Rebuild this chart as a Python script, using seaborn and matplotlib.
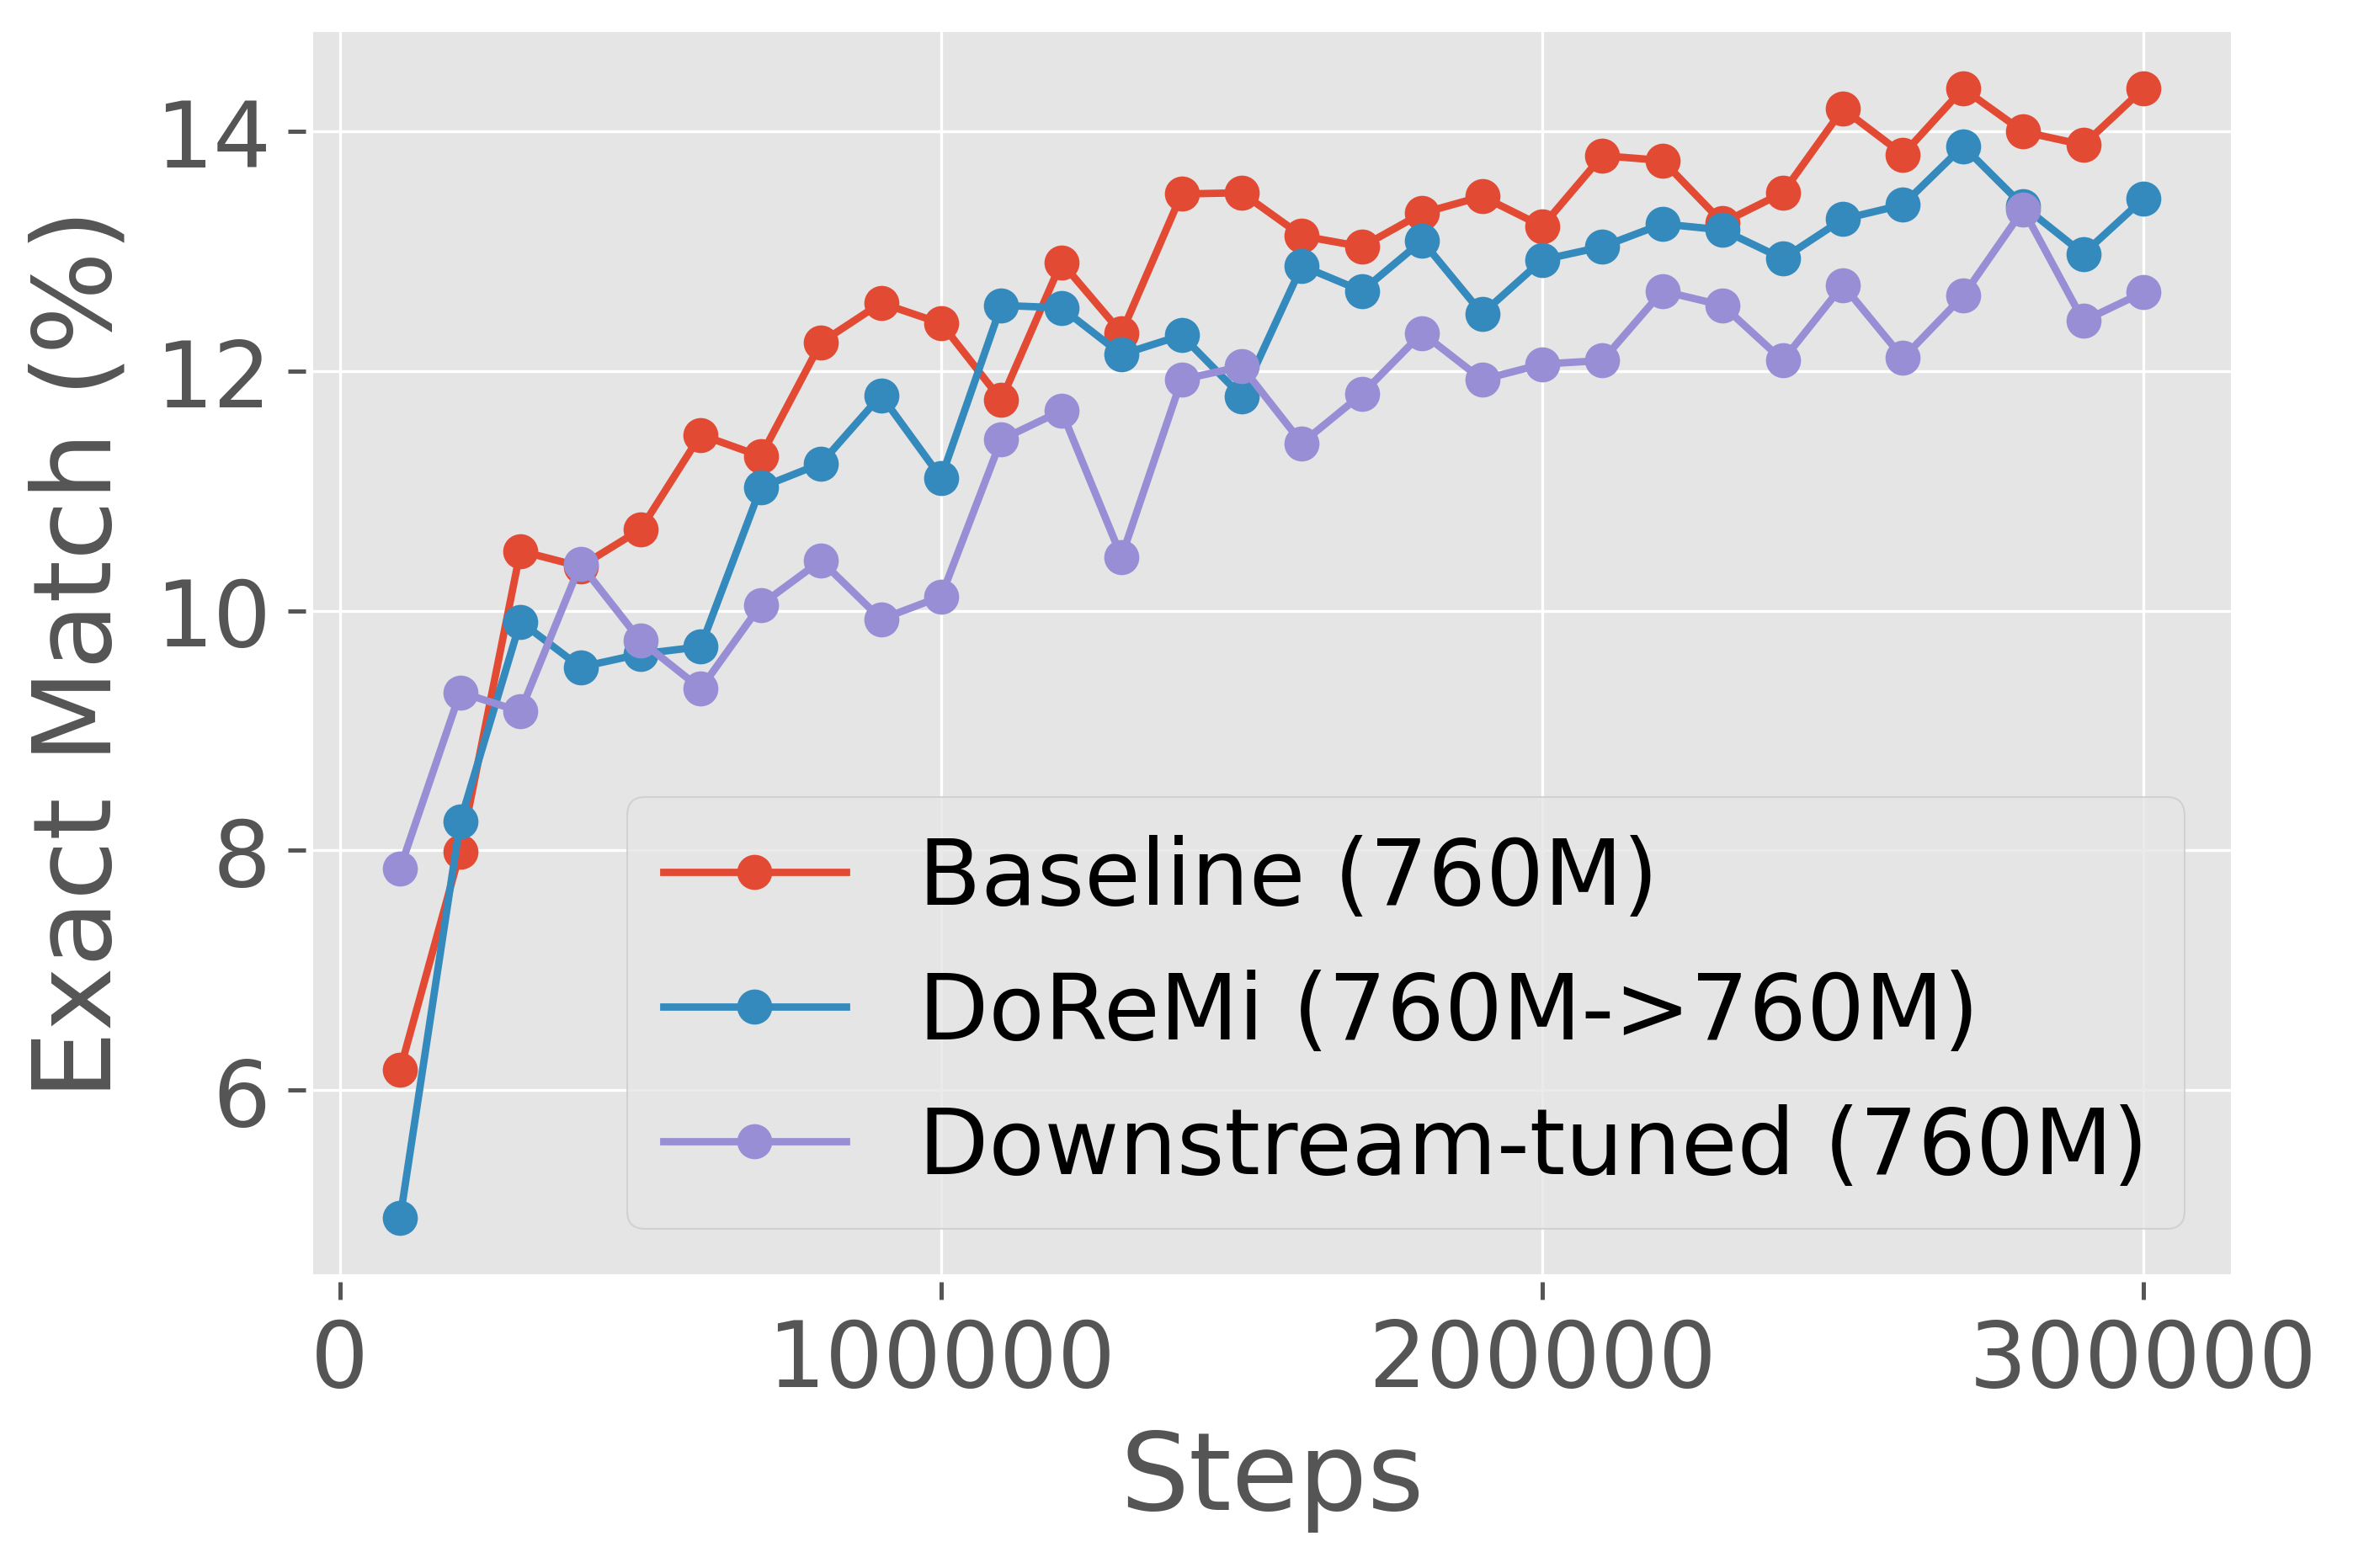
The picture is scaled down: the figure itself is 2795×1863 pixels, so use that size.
import matplotlib
matplotlib.use("Agg")
import matplotlib.pyplot as plt
import seaborn as sns
import pandas as pd

steps = [10000 * i for i in range(1, 31)]

baseline = [6.17, 7.99, 10.50, 10.37, 10.68, 11.47, 11.29, 12.24, 12.57, 12.40,
            11.76, 12.91, 12.32, 13.48, 13.49, 13.13, 13.04, 13.32, 13.46, 13.21,
            13.80, 13.76, 13.24, 13.49, 14.19, 13.81, 14.36, 14.00, 13.89, 14.36]
doremi = [4.93, 8.24, 9.91, 9.53, 9.64, 9.70, 11.03, 11.23, 11.80, 11.11,
          12.55, 12.53, 12.14, 12.30, 11.79, 12.88, 12.67, 13.09, 12.48, 12.93,
          13.04, 13.23, 13.18, 12.94, 13.27, 13.39, 13.88, 13.38, 12.98, 13.44]
downstream = [7.85, 9.32, 9.16, 10.39, 9.75, 9.35, 10.05, 10.42, 9.93, 10.12,
              11.43, 11.67, 10.45, 11.93, 12.04, 11.40, 11.81, 12.32, 11.93, 12.06,
              12.09, 12.67, 12.55, 12.09, 12.72, 12.11, 12.63, 13.35, 12.42, 12.66]

series_names = ["Baseline (760M)", "DoReMi (760M->760M)", "Downstream-tuned (760M)"]
colors = ["#E24A33", "#348ABD", "#988ED5"]

df = pd.concat([
    pd.DataFrame({"Steps": steps, "value": vals, "series": name})
    for name, vals in zip(series_names, [baseline, doremi, downstream])
])

plt.style.use("ggplot")
fig = plt.figure(figsize=(2795 / 300, 1864 / 300), dpi=300)
ax = fig.add_axes([0.133, 0.187, 0.815, 0.792])

sns.lineplot(data=df, x="Steps", y="value", hue="series", hue_order=series_names,
             palette=colors, marker="o", markersize=10, linewidth=2.1,
             markeredgewidth=0, ax=ax)

for side in ("left", "bottom", "right", "top"):
    ax.spines[side].set_visible(False)
ax.spines["left"].set_position(("outward", 2))
ax.spines["bottom"].set_position(("outward", 2))

ax.set_xlabel("Steps", fontsize=31, color="#555555", labelpad=6)
ax.set_ylabel("Exact Match (%)", fontsize=31, color="#555555", labelpad=6)
ax.tick_params(axis="both", labelsize=26, colors="#555555", length=5, width=1.2, pad=5)
ax.set_yticks([6, 8, 10, 12, 14])
ax.set_xticks([0, 100000, 200000, 300000])
ax.ticklabel_format(style="plain", axis="x")

leg = ax.legend(loc="lower right", fontsize=26)
leg.set_title(None)

fig.savefig("out.png", dpi=300)
